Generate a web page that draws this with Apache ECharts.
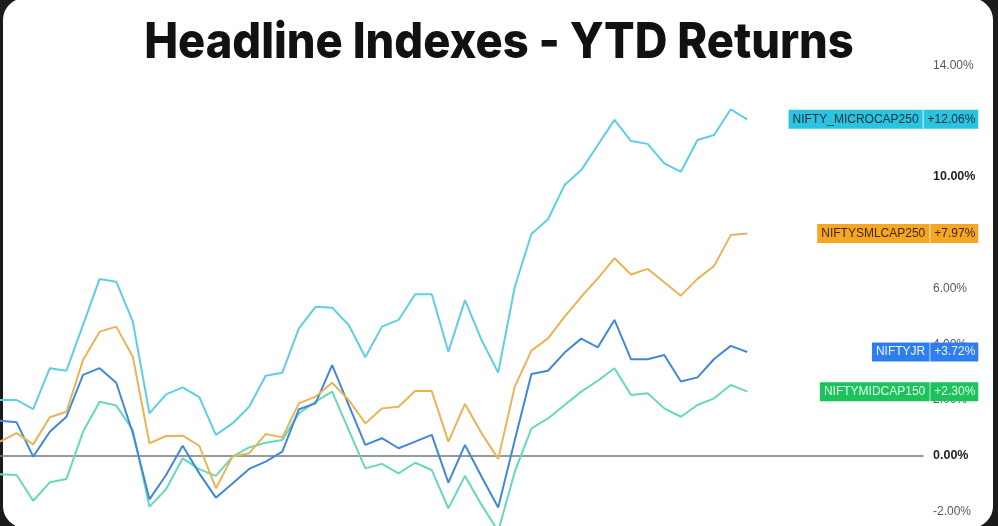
<!DOCTYPE html>
<html>
<head>
<meta charset="utf-8">
<script src="https://cdn.jsdelivr.net/npm/echarts@6/dist/echarts.min.js"></script>
<style>
  html, body { margin: 0; padding: 0; background: #1b1b1b; }
  #wrap { position: relative; width: 998px; height: 526px; overflow: hidden; background: #1b1b1b; }
  #card { position: absolute; left: 3px; top: -2px; width: 990px; height: 530px; background: #ffffff; border-radius: 22px; }
  #chart { position: absolute; left: 0; top: 0; width: 998px; height: 526px; }
</style>
</head>
<body>
<div id="wrap">
  <div id="card"></div>
  <div id="chart"></div>
</div>
<script>
// Trading-day index (x) for each observation
const days = [0,1,2,3,4,5,6,7,8,9,10,11,12,13,14,15,16,17,18,19,20,21,22,23,24,25,26,27,28,29,30,31,32,33,34,35,36,37,38,39,40,41,42,43,44,45];

// YTD returns (%)
const microcap = [2.0, 2.0, 1.67, 3.14, 3.05, 4.69, 6.34, 6.24, 4.81, 1.52, 2.2, 2.45, 2.1, 0.75, 1.16, 1.76, 2.87, 2.98, 4.57, 5.34, 5.31, 4.69, 3.53, 4.63, 4.87, 5.79, 5.79, 3.73, 5.58, 4.15, 2.98, 6.06, 7.95, 8.48, 9.71, 10.24, 11.14, 12.04, 11.28, 11.18, 10.48, 10.18, 11.32, 11.5, 12.42, 12.06];
const smallcap = [0.51, 0.81, 0.41, 1.38, 1.58, 3.43, 4.45, 4.63, 3.55, 0.45, 0.71, 0.72, 0.36, -1.16, -0.03, 0.09, 0.78, 0.66, 1.88, 2.12, 2.62, 2.0, 1.16, 1.70, 1.76, 2.32, 2.32, 0.51, 1.86, 0.81, -0.11, 2.48, 3.77, 4.21, 4.99, 5.70, 6.36, 7.08, 6.5, 6.7, 6.22, 5.74, 6.34, 6.8, 7.91, 7.97];
const niftyjr = [1.26, 1.2, -0.03, 0.86, 1.4, 2.9, 3.14, 2.62, 0.81, -1.56, -0.69, 0.36, -0.63, -1.5, -0.99, -0.47, -0.21, 0.15, 1.67, 1.88, 3.25, 1.82, 0.39, 0.63, 0.27, 0.51, 0.75, -0.96, 0.39, -0.75, -1.85, 0.57, 2.93, 3.05, 3.7, 4.2, 3.89, 4.87, 3.46, 3.46, 3.61, 2.66, 2.81, 3.47, 3.94, 3.72];
const midcap = [-0.66, -0.69, -1.61, -0.95, -0.83, 0.86, 1.94, 1.8, 0.92, -1.82, -1.2, -0.09, -0.48, -0.72, -0.03, 0.3, 0.47, 0.57, 1.52, 1.94, 2.3, 0.92, -0.45, -0.29, -0.63, -0.25, -0.51, -1.88, -0.72, -1.76, -2.7, -0.57, 0.98, 1.34, 1.82, 2.3, 2.69, 3.14, 2.18, 2.24, 1.7, 1.4, 1.82, 2.06, 2.54, 2.30];

const seriesNames = ['NIFTY_MICROCAP250', 'NIFTYSMLCAP250', 'NIFTYJR', 'NIFTYMIDCAP150'];
const seriesValues = [microcap, smallcap, niftyjr, midcap];
const lineColors = ['#5ccfe6', '#e9b455', '#4288d8', '#66d9bb'];
const tagColors = ['#2ac3e0', '#f5a623', '#2f7ef0', '#1cc35c'];
const sepColors = ['#86dcec', '#f9c979', '#80aef6', '#74da96'];
const tagText = ['#17323b', '#3d2c08', '#eef4ff', '#e2fbe9'];
const yTicks = [-2, 0, 2, 4, 6, 8, 10, 12, 14];
const boldTicks = [0, 10];
const title = 'Headline Indexes - YTD Returns';

const chart = echarts.init(document.getElementById('chart'), null, { renderer: 'canvas' });

function pct(v) { return (v >= 0 ? '+' : '') + v.toFixed(2) + '%'; }

const series = seriesNames.map(function (name, k) {
  const vals = seriesValues[k];
  const last = vals.length - 1;
  return {
    name: name,
    type: 'line',
    data: vals.map(function (v, i) { return [days[i], v]; }),
    symbol: 'none',
    z: 2 + (3 - k),
    lineStyle: { color: lineColors[k], width: 2 },
    itemStyle: { color: lineColors[k] },
    markPoint: {
      silent: true,
      symbol: 'circle',
      symbolSize: 1,
      itemStyle: { color: 'rgba(0,0,0,0)' },
      z: 10,
      data: [{ coord: [days[last], vals[last]] }],
      label: {
        show: true,
        position: 'inside',
        align: 'right',
        verticalAlign: 'middle',
        offset: [231, 0],
        formatter: function () { return '{n|' + name + '}{s|}{v|' + pct(vals[last]) + '}'; },
        rich: {
          n: { backgroundColor: tagColors[k], color: tagText[k], fontFamily: 'Liberation Sans', fontSize: 12, padding: [3, 4, 3, 4], height: 13, lineHeight: 13 },
          s: { backgroundColor: sepColors[k], width: 1, height: 19 },
          v: { backgroundColor: tagColors[k], color: tagText[k], fontFamily: 'Liberation Sans', fontSize: 12, padding: [3, 3, 3, 4], height: 13, lineHeight: 13 }
        }
      }
    }
  };
});

chart.setOption({
  animation: false,
  backgroundColor: 'transparent',
  graphic: [{
    type: 'text',
    x: 499,
    y: 43,
    scaleX: 0.905,
    silent: true,
    style: {
      text: title,
      font: '800 50px Inter',
      fill: '#111111',
      textAlign: 'center',
      textVerticalAlign: 'middle'
    }
  }],
  grid: { left: -3.3, right: 75, top: 65.2, bottom: 0.45, containLabel: false },
  xAxis: {
    type: 'value',
    min: 0,
    max: 55.58,
    axisLine: { show: true, onZero: true, lineStyle: { color: '#737980', width: 1.5 } },
    axisTick: { show: false },
    axisLabel: { show: false },
    splitLine: { show: false }
  },
  yAxis: {
    type: 'value',
    position: 'right',
    min: -2.5,
    max: 14,
    axisLine: { show: false },
    axisTick: { show: false },
    splitLine: { show: false },
    axisLabel: {
      customValues: yTicks,
      margin: 10,
      align: 'left',
      formatter: function (v) {
        const t = v.toFixed(2) + '%';
        return boldTicks.indexOf(v) >= 0 ? '{b|' + t + '}' : '{a|' + t + '}';
      },
      rich: {
        a: { color: '#555a60', fontFamily: 'Liberation Sans', fontSize: 12 },
        b: { color: '#222428', fontFamily: 'Liberation Sans', fontSize: 12.5, fontWeight: 'bold' }
      }
    }
  },
  series: series
});
</script>
</body>
</html>
